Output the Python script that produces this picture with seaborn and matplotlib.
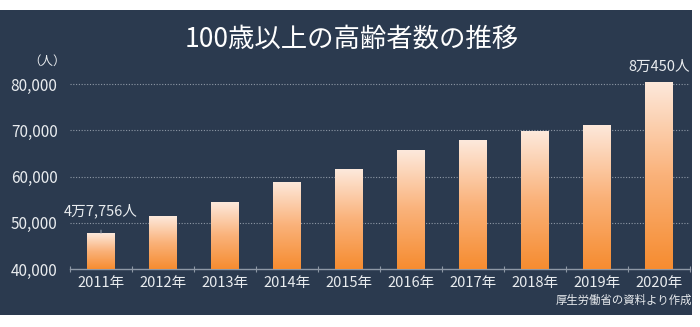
import numpy as np
import pandas as pd
import matplotlib
matplotlib.use("Agg")
import matplotlib.pyplot as plt
import seaborn as sns
from matplotlib.colors import LinearSegmentedColormap
from matplotlib.patches import Rectangle

years = ["2011年", "2012年", "2013年", "2014年", "2015年",
         "2016年", "2017年", "2018年", "2019年", "2020年"]
counts = [47756, 51376, 54397, 58820, 61568, 65692, 67824, 69785, 71238, 80450]
yticks = [40000, 50000, 60000, 70000, 80000]
ytick_labels = ["40,000", "50,000", "60,000", "70,000", "80,000"]
title = "100歳以上の高齢者数の推移"
unit = "（人）"
first_label = "4万7,756人"
last_label = "8万450人"
source = "厚生労働省の資料より作成"

sns.set_theme(style="dark")
plt.rcParams["font.family"] = ["Noto Sans CJK JP", "DejaVu Sans"]

BG = "#2b3a4f"
TXT = "#e9ecef"
GRID = "#8e98a6"

fig = plt.figure(figsize=(7.0, 3.27), dpi=100, facecolor="white")
fig.patches.append(Rectangle((0.0, 12 / 327), 692 / 700, 305 / 327,
                             transform=fig.transFigure, facecolor=BG,
                             edgecolor="none", zorder=-10))

ax = fig.add_axes([70 / 700, (327 - 269) / 327, 620 / 700, (269 - 74.75) / 327])
ax.set_facecolor("none")
ax.set_zorder(5)

df = pd.DataFrame({"year": years, "count": counts})
sns.barplot(data=df, x="year", y="count", ax=ax, width=0.44,
            color="#f7913a", edgecolor="none", saturation=1)

ax.set_ylim(40000, 82000)
ax.set_xlim(-0.5, len(years) - 0.5)

cmap = LinearSegmentedColormap.from_list("g", ["#f68c30", "#fab27a", "#fde9dc"])
grad = np.linspace(0, 1, 256).reshape(-1, 1)
for p in ax.patches:
    x0, w = p.get_x(), p.get_width()
    y0, h = 40000, p.get_y() + p.get_height() - 40000
    im = ax.imshow(grad, cmap=cmap, origin="lower", aspect="auto",
                   extent=[x0, x0 + w, y0, y0 + h], zorder=3)
    im.set_clip_path(p)
    p.set_facecolor("none")
ax.set_ylim(40000, 82000)
ax.set_xlim(-0.5, len(years) - 0.5)

for y in yticks[1:]:
    ax.axhline(y, color=GRID, lw=0.8, ls=(0, (1, 1.5)), zorder=1)

ax.set_yticks(yticks)
ax.set_yticklabels(ytick_labels)
ax.tick_params(axis="y", length=0, pad=9, labelsize=11, colors=TXT)
ax.set_xticks(range(len(years)))
ax.set_xticklabels(years)
ax.tick_params(axis="x", length=0, pad=5, labelsize=10.5, colors=TXT)
ax.set_xticks(np.arange(-0.5, len(years)), minor=True)
ax.tick_params(axis="x", which="minor", direction="inout", length=5,
               width=0.8, color=GRID, bottom=True)

for s in ["top", "right", "left"]:
    ax.spines[s].set_visible(False)
ax.spines["bottom"].set_color(GRID)
ax.spines["bottom"].set_linewidth(1.0)
ax.set_xlabel("")
ax.set_ylabel("")
ax.grid(False)

fig.text(352 / 700, 1 - 39 / 327, title, ha="center", va="center",
         fontsize=19, color="white")
fig.text(47 / 700, 1 - 61 / 327, unit, ha="center", va="center",
         fontsize=9, color=TXT)
fig.text(692 / 700, 1 - 300 / 327, source, ha="right", va="center",
         fontsize=8.2, color=TXT)

ax.annotate(first_label, xy=(0, counts[0]), xytext=(0, 52500),
            ha="center", va="center", fontsize=10.5, color=TXT,
            arrowprops=dict(arrowstyle="-", color=GRID, lw=0.8,
                            shrinkA=6, shrinkB=0))
ax.text(len(years) - 1, 83600, last_label, ha="center", va="center",
        fontsize=10.5, color=TXT, clip_on=False)

fig.savefig("out.png", dpi=100, facecolor="white")
